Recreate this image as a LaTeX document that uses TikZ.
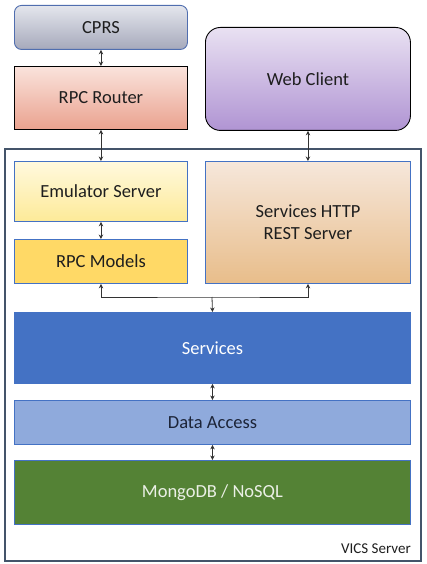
\documentclass[tikz,border=0pt]{standalone}
\usepackage{fontspec}
\setmainfont{Carlito}
\usetikzlibrary{arrows.meta}
\definecolor{edgeblue}{RGB}{68,114,196}
\definecolor{frame}{RGB}{68,84,106}
\definecolor{txt}{RGB}{30,30,30}
\begin{document}
\begin{tikzpicture}[x=1pt,y=-1pt,
  layer/.style={rectangle, anchor=north west, inner sep=0pt, line width=0.9pt,
    font=\fontsize{18.5}{22}\selectfont, align=center, text=txt, draw=edgeblue},
  conn/.style={{Stealth[length=4.5pt,width=4.5pt]}-{Stealth[length=4.5pt,width=4.5pt]}, line width=0.8pt, draw=black!80},
  oneway/.style={-{Stealth[length=4.5pt,width=4.5pt]}, line width=0.8pt, draw=black!80}
]
\useasboundingbox (0,0) rectangle (426,564);
\node[layer, rounded corners=7pt, minimum width=173pt, minimum height=44pt,
  top color={rgb,255:red,228;green,230;blue,237}, bottom color={rgb,255:red,166;green,169;blue,187},
  draw={rgb,255:red,80;green,110;blue,175}] (cprs) at (14,5) {CPRS};
\node[layer, draw=black, minimum width=173pt, minimum height=63pt,
  top color={rgb,255:red,250;green,227;blue,220}, bottom color={rgb,255:red,234;green,162;blue,143}] (router) at (14,66) {RPC Router};
\node[layer, draw=black, rounded corners=15pt, minimum width=205pt, minimum height=103pt,
  top color={rgb,255:red,233;green,225;blue,242}, bottom color={rgb,255:red,176;green,148;blue,211}] (web) at (205,27) {Web Client};
\node[rectangle, anchor=north west, inner sep=0pt, draw=frame, line width=2pt,
  minimum width=416pt, minimum height=412pt] (vics) at (4,148) {};
\node[anchor=base east, font=\fontsize{15}{18}\selectfont, text=txt, inner sep=0pt] (vicslabel) at (411,553) {VICS Server};
\node[layer, minimum width=173pt, minimum height=60pt,
  top color={rgb,255:red,255;green,249;blue,222}, bottom color={rgb,255:red,253;green,234;blue,152}] (emu) at (14,161) {Emulator Server};
\node[layer, minimum width=173pt, minimum height=44pt,
  fill={rgb,255:red,255;green,217;blue,102}] (models) at (14,239) {RPC Models};
\node[layer, minimum width=205pt, minimum height=122pt,
  top color={rgb,255:red,246;green,231;blue,219}, bottom color={rgb,255:red,232;green,189;blue,138}] (http) at (205,161) {Services HTTP\\REST Server};
\node[layer, minimum width=396pt, minimum height=71pt,
  fill={rgb,255:red,68;green,114;blue,196}, text=white] (services) at (14,312) {Services};
\node[layer, minimum width=396pt, minimum height=44pt,
  fill={rgb,255:red,143;green,170;blue,220}, text={rgb,255:red,28;green,36;blue,56}] (data) at (14,400) {Data Access};
\node[layer, minimum width=396pt, minimum height=64pt,
  fill={rgb,255:red,84;green,130;blue,53}, text={rgb,255:red,235;green,240;blue,230}] (mongo) at (14,460) {MongoDB / NoSQL};
\coordinate (j) at (212,297);
\draw[conn] (cprs.south) -- (router.north);
\draw[conn] (router.south) -- (emu.north);
\draw[conn] (web.south) -- (http.north);
\draw[conn] (emu.south) -- (models.north);
\draw[conn] (models.south) |- (j) -| (http.south);
\draw[oneway] (j) -- (services.north);
\draw[conn] (services.south) -- (data.north);
\draw[conn] (data.south) -- (mongo.north);
\end{tikzpicture}
\end{document}
